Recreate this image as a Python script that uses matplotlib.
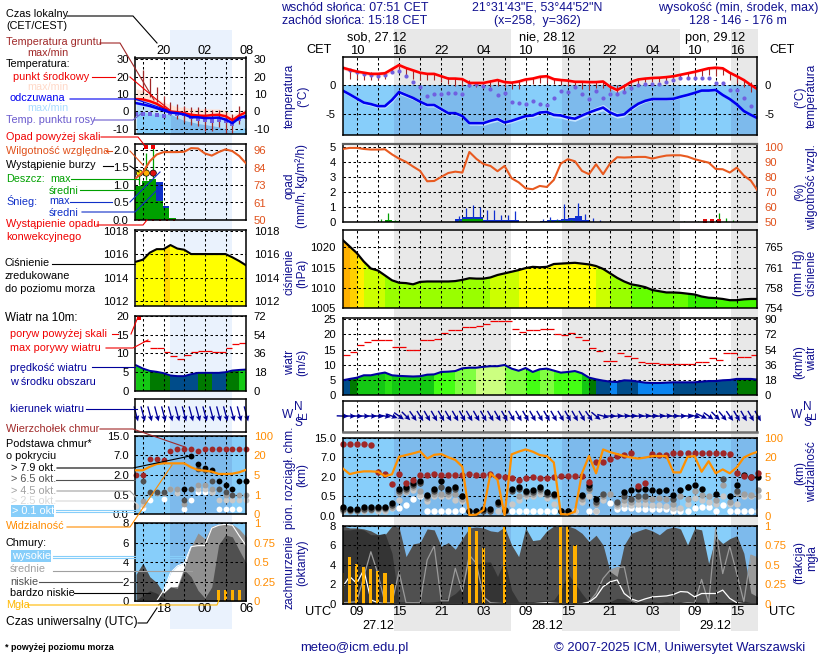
import numpy as np
import matplotlib
matplotlib.use('Agg')
import matplotlib.pyplot as plt
from matplotlib.patches import Rectangle
from matplotlib.transforms import blended_transform_factory as btf

plt.rcParams['font.family'] = ['Liberation Sans', 'DejaVu Sans']
nan = float('nan')
TF = 8.1

# ---------- main panels: hourly values, 27.12 07 UTC onward ----------
temp = [2.95,2.6,2.3,2.1,1.9,1.9,2.0,2.7,3.4,2.9,2.5,2.1,1.9,1.9,1.5,1.1,1.1,1.0,.35,.35,.35,.6,.85,.5,.4,.6,.95,1.1,1.4,1.5,
        1.0,.85,.75,.55,.55,.5,.5,.6,-.3,-.85,-.2,.55,.95,1.1,1.2,1.25,1.35,1.5,1.75,2.0,2.25,2.55,2.85,2.95,2.85,2.1,1.5,.85,0,-.75]
feel = [-.95,-1.6,-2.3,-3.0,-3.25,-3.6,-3.6,-2.55,-1.2,-1.7,-2.2,-2.85,-3.4,-3.4,-4.1,-4.8,-4.8,-5.3,-6.5,-6.5,-6.5,-6.1,-5.8,-6.4,-6.1,-5.7,-5.3,-5.2,-4.7,-4.6,
        -5.1,-5.2,-5.55,-5.75,-5.2,-4.7,-4.25,-3.85,-4.7,-5.2,-5.0,-4.0,-3.2,-2.7,-2.4,-2.4,-2.4,-2.35,-2.0,-1.7,-1.35,-.95,-.95,-.85,-1.7,-2.4,-3.3,-4.45,-5.1,-5.7]
dew = [nan,2.5,2.2,1.9,1.65,1.5,1.75,2.3,2.45,1.5,.55,-.4,-1.8,-1.6,-1.5,-1.4,-1.3,-1.5,0,.2,-.25,-.65,-1.7,-1.3,-2.9,-3.0,-3.3,-2.7,-3.3,-3.4,
       -2.2,-1.0,-1.15,-.35,-1.6,-2.4,-1.0,-2.15,-1.5,-1.6,-1.15,-.45,.05,.2,.2,.15,.5,.8,1.15,1.15,1.15,1.25,1.25,.4,.35,-.85,-.85,-2.3,-3.5,-5.5]
temp_spread = [.35,.35,.3,.3,.35,.35,.4,.45,.4,.3,.3,.25,.25,.25,.2,.2,.2,.2,.3,.35,.35,.35,.35,.3,.3,.3,.3,.25,.3,.35,
               .3,.3,.25,.25,.2,.2,.2,.2,.3,.4,.35,.3,.25,.2,.2,.2,.15,.15,.15,.2,.2,.2,.25,.3,.3,.25,.2,.2,.2,.2]
feel_spread = [.3,.3,.3,.3,.3,.35,.35,.4,.4,.35,.3,.3,.35,.35,.35,.3,.3,.3,.35,.35,.4,.4,.4,.35,.35,.35,.35,.35,.4,.4,
               .45,.45,.45,.45,.45,.45,.5,.55,.5,.45,.4,.35,.3,.25,.25,.2,.2,.2,.2,.2,.15,.15,.15,.15,.2,.2,.2,.2,.2,.2]
ground_max = [nan,2.6,2.45,2.3,2.2,2.1,2.3,2.9,3.3,2.9,2.5,2.3,2.1,2.1,1.6,1.3,1.2,1.1,.8,.6,.5,.8,1.0,.8,.6,.7,1.0,1.2,1.5,1.6,
              1.2,1.1,.9,.7,.7,.6,.6,.7,.1,-.0,.1,.7,1.0,1.2,1.3,1.3,1.4,1.6,1.8,2.1,2.3,2.6,2.9,3.0,2.9,2.2,1.7,1.0,.6,-.0]
ground_min = [nan,1.0,1.0,.8,.9,.9,1.0,2.2,2.6,1.6,1.1,.8,.9,.8,.5,.1,-.1,-.1,-.3,-.4,-.5,-.3,-.1,-.4,-.7,-.6,.1,.1,.4,.3,
              .1,.0,-.1,-.4,-.7,-.8,-.5,-.5,-1.0,-1.3,-1.0,-.3,.1,.5,.5,.6,.7,.8,1.1,1.2,1.4,1.5,1.7,1.6,1.7,.9,.3,-.3,-1.2,-1.3]
rh = [98.4,99.1,99.1,98.4,98,98,98.2,94.8,92,89.8,86.7,83.8,76.9,77.1,79.8,82.4,83.3,82.7,96.4,91.8,88.4,87.1,83.6,87.1,78.9,76.2,72.2,71.6,73.8,73.1,
      77.8,88.7,91.6,90.2,83.8,81.6,88.2,81.6,88.8,92.9,92.7,92.9,93.1,93.1,92,93.1,94,94.2,94.2,93.3,91.6,90.4,89.3,85.1,84.9,82.7,86,80.7,77.3,70.4]
snow_max_i = [16,17,18,19,20,21,22,23,24,28,29,30,31,32,33,34,35,36]
snow_max_v = [.38,.9,1.1,.96,.76,.76,.45,.45,.71,.2,.3,.2,1.18,.25,1.22,.5,.25,.1]
snow_mean_i = [16,17,18,19,20,21,22,23,24,28,29,30,31,32,33,34]
snow_mean_v = [.15,.3,.32,.3,.1,.12,.12,.1,.1,.05,.1,.1,.2,.25,.35,.1]
rain_max_i = [4,5,6,7,16,17,18,19,29,30,31,32,48,50,51,52,53,54,55]
rain_max_v = [.05,.2,.55,.1,.1,.2,.25,.2,.1,.1,.1,.1,.05,.05,.15,.15,.55,.25,.1]
rain_mean_i = [6,7,17,18,19,30,31,32]
rain_mean_v = [.08,.05,.15,.2,.15,.03,.05,.05]
over_scale_i = [51,52,53]
pres = [1021.8,1020.2,1018.6,1016.5,1014.8,1014.3,1013.1,1011.9,1011.3,1011.2,1010.9,1011.5,1011.6,1011.6,1011.6,1011.6,1011.7,1012.0,1012.4,1012.3,1012.3,1012.6,1013.2,1013.6,1014,1014.4,1014.9,1015.2,1015.1,1015.2,
        1015.9,1016,1016.1,1016.2,1016,1015.8,1015.4,1014.7,1013.6,1012.5,1011.6,1010.9,1010.6,1010.2,1009.5,1009.2,1008.9,1008.9,1008.8,1008.6,1008.4,1007.9,1007.6,1007.5,1007.3,1007,1007,1007.2,1007.3,1007.3]
pres_col = ['#FFB000','#FFD000','#FFF000','#CCFF00','#CCFF00','#CCFF00']+['#99FF00']*15+['#CCFF00']*4+['#FFFF00']*11+['#CCFF00']*2+['#99FF00']*3+['#66FF00']*8+['#33EE00']*4+['#44F800']*7
wind = [4.85,5.3,5.7,6.5,6.5,7,7.4,6.5,6.3,6.2,6.1,6.2,6.7,6.8,7.6,7.7,7.9,8.8,9,9,9.3,9.5,9.5,9.9,8.7,8.0,8.9,7.6,8.48,8.7,
        8.04,7.38,7.6,7.9,7.16,5.73,5.18,4.74,4.4,4.3,4.85,4.74,4.4,4.07,3.96,3.96,4.07,4.18,4.18,4.18,4.18,4.4,4.6,4.6,4.85,4.96,5.3,5.3,5.3,5.07]
gust = [13.1,14.1,16.4,17.6,18,18.2,18.2,15.8,15.8,14.8,14.8,18.2,18.2,18.5,20.4,21.4,21.4,22.4,22.4,22.8,23.3,24.5,24.5,24.3,21.9,20.9,21.6,21.6,21.9,21.9,
        20,19.7,20.4,19,18,15.4,14.4,11.2,11.2,13.8,12.8,12.1,10.8,10.5,10.5,10.1,10.1,10.1,10.1,10.1,10.8,11,12.1,11.7,13.8,13.8,12.4,12.7,13.1,13.1]
n_, b_, d_, g1, g2, g3, g4, g5 = '#004C8A','#0A84F0','#007A00','#14C814','#28E014','#44FF14','#80FF40','#CCFF80'
wind_col = [n_,d_,g1,g1,g1,g1,g2,g1,g1,g1,g1,g1,g1,g3,g3,g3,g4,g4,g4,g5,g5,g5,g5,g4,g4,g4,g3,g3,g4,g4,
            g3,g3,g3,g3,g1,d_,n_,n_,b_,n_,n_,n_,b_,b_,b_,b_,b_,n_,n_,n_,n_,n_,n_,n_,n_,n_,d_,d_,d_,d_]
wind_dir = [272,272,272,272,272,274,280,290,305,315,325,328,330,330,330,330,330,330,330,330,330,330,330,330,330,330,330,330,330,330,
            330,330,330,330,330,325,310,285,270,265,265,265,265,265,265,265,265,268,270,275,285,295,305,315,320,325,330,330,330,330]
top_km = [12.4,12.4,12.5,12.5,11.9,3.3,2.8,1.45,2.8,1.5,1.76,2.6,2.6,2.8,2.4,2.6,2.4,2.6,2.8,2.6,2.4,2.8,2.1,2.03,1.88,1.76,1.88,2.03,1.88,1.88,
          2.0,2.3,2.3,2.3,2.3,1.63,5.7,5.87,6.47,7.5,7.9,8.6,1.32,1.5,8.35,7.8,7.9,8.87,8.87,8.6,8.87,8.87,8.87,8.87,8.87,8.35,2.9,2.3,2.0,3.05]
okt79 = [.24,.18,.18,.22,.22,.24,.24,.32,1.04,1.25,1.5,1.68,.6,1.1,1.68,1.1,1.25,.57,.14,.14,.17,.17,.37,.15,1.1,1.25,.95,.97,1.25,.81,
         .7,.14,.14,nan,.6,1.37,.43,nan,nan,nan,.82,1.0,1.05,1.05,.97,.92,1.0,.6,1.0,1.19,1.37,1.1,nan,.71,nan,.56,1.37,2.45,2.0,2.0]
okt65 = [.19,.15,.15,.18,.18,.2,.2,.27,.92,1.1,1.35,1.5,.52,.95,1.2,.95,1.05,.5,.12,.12,.14,.14,.3,.13,.95,1.1,.85,.85,1.1,.7,
         .6,.12,.12,nan,.5,1.15,.36,.7,nan,.35,.5,.43,.55,.5,nan,nan,nan,.43,nan,1.25,nan,nan,nan,nan,1.8,nan,.93,nan,nan,nan]
okt45 = [.16,.13,.13,.15,.15,.17,.17,.23,.8,.95,1.2,.9,.45,.7,.7,.7,.7,.43,nan,nan,nan,.12,nan,.12,nan,.55,.7,.7,.9,.6,
         .5,nan,nan,nan,.43,1.0,.3,.55,.65,.3,.4,.36,.43,.43,.43,.45,.43,.3,.5,.43,.9,.6,.5,.4,1.4,.35,.75,.7,.6,1.0]
okt25 = [.14,nan,nan,.13,nan,.14,.14,.2,.4,.85,1.0,.6,.38,.5,.55,.5,.4,.38,.12,nan,nan,.12,.13,.12,.3,.4,.55,.55,.7,.45,
         .3,nan,nan,.12,.36,.5,.12,.4,nan,.25,.3,.28,.3,.3,.28,.28,.25,.2,.2,.3,.45,.4,.35,.3,.55,.3,.3,.55,.55,.55]
okt01 = [nan,nan,nan,nan,nan,nan,nan,nan,.2,.28,.43,.5,.14,.14,.14,.14,.14,.15,nan,nan,nan,nan,nan,nan,.14,.14,.14,.14,.14,.14,
         .14,nan,nan,.14,nan,.14,.14,nan,.32,.18,.2,.2,.18,.18,.18,.18,.18,.14,.14,.14,.2,.22,.22,.14,.28,.14,.14,.14,.14,.14]
vis = [11.5,7.1,8.4,9.2,9.2,8.9,5.6,6.9,22,29,36,44,19,30,33,20,18,12.8,.05,.07,.31,7.7,4.4,.05,32,43,52,43,29,25,
       16,.1,.08,.22,7.7,25,7.7,52,41,33,25,19.8,19,19.8,25,25,25,8.4,8.4,22,25,8.9,17,7.7,10.7,7.7,12.3,19.8,33,43]
cl_low = [8,7.8,7.8,7.7,7.5,7.1,7.1,8,7.9,4.85,6.15,6.3,7.7,7.6,5.9,6.3,5.6,6.7,7.8,7.9,7.8,7.5,7.4,7.9,6.05,4.85,7.8,6.5,6.6,7.5,
          8,7.9,8,7.75,7.25,6.4,7.05,6.05,3.3,2.8,6.05,7.25,7.5,7.75,7.5,7.1,7.7,7.9,7.7,6.05,7.75,7.6,4.15,6.9,6.2,6.7,7,5.2,1.1,.7]
cl_vlow = [7.6,7.6,7.7,7.6,7.1,7.1,7.25,5.2,.2,.2,.25,.2,.15,.2,.3,.6,1.05,1.75,4.15,4.0,4.3,4.3,2.8,4.5,1.4,.2,.2,.2,.3,.3,
           .4,1.4,3.1,2.1,1.05,.15,.1,.1,.2,.55,.5,.15,.3,.15,.2,.1,.2,.1,.2,.1,.2,.15,.1,.2,.1,.15,.3,.3,.1,.1]
cl_med = [.1,.15,.2,2.8,5.35,3.1,.1,.1,3.3,.1,.1,.1,4.5,5.95,.3,.3,3.65,1.25,5,4.15,.7,.1,.05,0,0,0,0,0,0,0,
          0,0,0,0,0,.2,1.05,2.6,3.45,3.7,3.8,.4,0,0,0,0,0,0,0,.1,.05,2.5,.05,7.75,3.1,5.9,3.1,.2,5,4.7]
cl_high = [1.75,2.8,2.1,3.5,.4,.1,0,0,0,0,0,0,0,0,0,0,0,0,0,0,0,0,0,0,0,0,0,0,.05,.1,
           .05,0,0,0,0,.15,.7,1.75,2.25,2.45,1.05,.5,.25,.5,.7,.75,.8,.95,1.25,1.2,.7,1.05,1.05,1.05,1.4,.55,.1,0,0,0]
fog_i = [0,1,2,3,4,5,6,7,18,19,20,23,31,32,33]
fog_v = [.39,.6,.51,.47,.45,.42,.39,.25,1,.93,.72,1,1,1,.76]
night_main = [(14.3, 30.9), (38.2, 54.9), (62.2, 66.0)]
cet_hours = [9,15,21,27,33,39,45,51,57,63]
cet_labels = ['10','16','22','04','10','16','22','04','10','16']
utc_labels = ['09','15','21','03','09','15','21','03','09','15']

# ---------- left panels: hourly values, 14 UTC to 06 UTC ----------
l_hours = list(range(14, 31))
l_temp = [7.1,6.9,5.9,4.4,2.1,0,-.4,-1,-1.9,-2.3,-2.5,-2.1,-1.9,-2.7,-5,-2.3,-.4]
l_feel = [4.8,4,3.1,1.9,.6,-.6,-1,-1.7,-3.3,-3.3,-3.8,-3.7,-3.5,-4.6,-6.7,-3.7,-2.7]
l_feel_min = [.5,0,-1.3,-1.3,-1.3,-1.5,-3.5,-5.2,-6,-7,-7.5,-8.2,-8.8,-10,-11,-10,-9]
l_temp_top = [13,12,9.5,7.5,5.3,4,2.5,2.5,1.5,1.5,1.5,1.5,1.5,.6,-2,0,1.6]
l_dew = [-1.3,-1.3,-1.7,-2.3,-2.7,-1,-1.3,-1.7,-3.3,-4.2,-4.6,-5.2,-4.8,-5.2,-7.1,-4.2,-3.3]
l_gmax = [nan,24,19,14,9,5.7,4.4,3.4,2.5,2.5,1.9,.6,.6,-.4,-1.3,2.9,nan]
l_gmin = [nan,11,8,5.4,1.5,-2.3,-4.2,-6,-7.5,-8.4,-11,-11,-9,-12.9,-12.3,-7,nan]
l_rh = [77.5,81.3,88.5,92.9,94.5,94.5,94.5,94.7,97.1,96.9,93.6,92.2,94.5,96.3,95.1,91.9,87]
l_rain = [.96,1.12,1.18,.53,.34,.07]
l_snow = [0,0,0,1.08,.41,0]
l_rain_max = [1.35,1.9,2.1]
l_storm_col = ['#FFF000','#FFB000','#E01010']
l_pres = [1015.38,1015.55,1016.15,1016.45,1016.45,1016.8,1016.5,1016.4,1016.03,1016.03,1016.03,1016.03,1016.03,1016.03,1015.75,1015.43,1015.06]
l_pres_col = ['#FFFF00']*4+['#FFD800']+['#FFFF00']*12
l_wind = [6.84,5.96,5.35,5.1,4.74,4.12,3.95,3.95,4.47,4.82,4.82,4.82,4.82,5,5.44,5.6,5.7]
l_gust = [nan,13.4,11.5,11.3,10.4,9.3,8.6,9.6,10.3,10.6,10.6,10.3,10.3,11.5,12.6,12.8,12.8]
l_gust_over = [19.5]
l_wind_col = [g1,g1,d_,d_,d_,n_,n_,n_,n_,d_,d_,n_,n_,d_,d_,g1,g1]
l_dir = [345]*17
l_top = [2,2,6.15,6.15,5.8,8.6,9.4,9.4,9.4,8.6,9.4,9.4,9.4,9.4,9.4,9.4,9.4]
l_79 = [nan,nan,nan,nan,nan,nan,nan,.93,6.85,4.8,3.85,3.27,1.54,1.24,.91,1.54,1.54]
l_65 = [nan,1.54,.68,.68,.68,nan,nan,.36,.91,3.45,3.27,1.54,.91,.68,.49,nan,1.54]
l_45 = [nan,.35,.6,.6,.6,.91,.91,.26,nan,1.24,1.24,.91,.91,.49,.49,.49,.49]
l_25 = [.21,.24,nan,nan,nan,.91,.6,nan,nan,.91,.91,.73,.36,.36,.36,.36,.36]
l_01 = [nan,.15,.36,nan,.38,nan,nan,.13,.36,.68,.68,.68,.13,.13,.13,.13,nan]
l_vis = [8.6,8.6,11.3,13.4,13.9,13.9,13.9,13.9,10.9,8.8,8.3,7.6,5.8,5.8,6,7.1,9]
l_vlow = [.1,.55,1.07,.8,.3,0,0,0,0,0,0,0,0,0,0,0,0]
l_low = [2.75,3.9,2.5,1.9,.8,1.45,1.3,3.2,2.5,1.1,.3,1.45,5.8,6.8,6.6,5.2,3.9]
l_med = [0,0,0,0,.8,1.45,1.5,3.5,5.6,7,6.4,7.7,7.9,7.9,7.9,7.4,6.6]
l_high = [0,0,0,0,1.1,2.9,3.6,3.9,5.6,5.7,5.7,7.5,7.8,7.9,7.8,6.7,5.7]
l_fog_h = [26,27,28,29]
l_fog_v = [.14,.14,.14,.14]
day_left = (18.9, 27.9)

t = np.arange(7, 67, dtype=float)
lt = np.array(l_hours, dtype=float)
XM = (7.0, 65.9)
XL = (13.85, 29.9)
SKY, SKYN = '#87CEFA', '#7DBAEC'
GRID = dict(color='black', lw=0.75, ls=(0, (2.4, 2.4)))

fig = plt.figure(figsize=(8.2, 6.6), dpi=100, facecolor='white')
bg = fig.add_axes([0, 0, 1, 1], zorder=-1); bg.set_xlim(0, 820); bg.set_ylim(660, 0); bg.axis('off')
top = fig.add_axes([0, 0, 1, 1], zorder=20); top.set_xlim(0, 820); top.set_ylim(660, 0); top.axis('off')


def panel(box, xlim, ylim, ticks, labels=None, rlabels=None, rcol='black', vgrid=(), fs=TF, lpad=4.5, rpad=6):
    l, t_, r, b = box
    ax = fig.add_axes([l/820, 1-b/660, (r-l)/820, (b-t_)/660], zorder=5)
    ax.patch.set_alpha(0)
    ax.set_xlim(*xlim); ax.set_ylim(*ylim)
    ax.set_axisbelow(False)
    ax.set_xticks(list(vgrid)); ax.set_xticklabels([])
    ax.set_yticks(ticks)
    ax.set_yticklabels(labels if labels is not None else [str(v) for v in ticks], fontsize=fs)
    ax.tick_params(length=0, pad=lpad)
    ax.grid(True, **GRID)
    for s in ax.spines.values():
        s.set_linewidth(1.1); s.set_zorder(12)
    ax2 = None
    if rlabels is not None:
        ax2 = ax.twinx(); ax2.set_zorder(6); ax2.patch.set_alpha(0)
        ax2.set_ylim(*ylim)
        ax2.set_yticks(ticks); ax2.set_yticklabels(rlabels, fontsize=fs, color=rcol)
        ax2.tick_params(length=0, pad=rpad)
        for s in ax2.spines.values():
            s.set_visible(False)
    return ax, ax2


def sky(ax, bands, y0, y1):
    ax.axhspan(y0, y1, color=SKY, lw=0, zorder=0.1)
    for a, c in bands:
        ax.fill_between([a, c], [y0, y0], [y1, y1], color=SKYN, lw=0, zorder=0.2)


def coloured(ax, x, y, colours, base):
    poly = ax.fill_between(x, base, y, color='none', lw=0)
    bars = ax.bar(x, [max(y)*2]*len(x), bottom=base, width=1.0, align='edge', color=colours, lw=0, zorder=0.5)
    for p in bars:
        p.set_clip_path(poly.get_paths()[0], ax.transData)


VG_M = [9+3*k for k in range(19)]
VG_L = [15, 18, 21, 24, 27]
BM = [(a, b) for a, b in night_main]
BL = [day_left]

def km_f(v): return np.interp(v, [0, .5, 2, 7, 15], [0, 1, 2, 3, 4])
def km_i(v): return np.interp(v, [0, 1, 2, 3, 4], [0, .5, 2, 7, 15])
def vis_f(v): return np.interp(v, [0, 1, 5, 20, 100], [0, 1, 2, 3, 4])
def vis_i(v): return np.interp(v, [0, 1, 2, 3, 4], [0, 1, 5, 20, 100])

# ====== main panels ======
M1, _ = panel((342.7, 57.3, 757.2, 135), XM, (-8.53, 4.73), [0, -5], ['0', '-5'], ['0', '-5'], vgrid=VG_M, lpad=5, rpad=5)
sky(M1, BM, -8.53, 0)
M1.fill_between(t, np.array(temp)-temp_spread, np.array(temp)+temp_spread, color='#FFD0D0', lw=0, zorder=.6, alpha=.9)
M1.fill_between(t, np.array(feel)-feel_spread, np.array(feel)+feel_spread, color='#C4E4FF', lw=0, zorder=.6)
M1.vlines(t, ground_min, ground_max, color='#A02828', lw=.8, zorder=3)
M1.plot(t, dew, ls='', marker='o', ms=3, color='#7060E0', mew=0, zorder=3.2)
M1.plot(t, temp, color='#FF0000', lw=1.9, zorder=4)
M1.plot(t, feel, color='#0000F0', lw=1.9, zorder=4)
for h, lab in zip(cet_hours, cet_labels):
    M1.text(h, 1.0, lab, transform=btf(M1.transData, M1.transAxes), ha='center', va='bottom', fontsize=9.4)

M2, M2r = panel((342.7, 144, 757.2, 221.7), XM, (0, 5.17), [5, 4, 3, 2, 1, 0], ['5', '4', '3', '2', '1', '0'], ['100', '90', '80', '70', '60', '50'], '#E0501A', VG_M, lpad=5, rpad=5)
M2.spines['top'].set_color('#606060'); M2.spines['top'].set_linewidth(1.6)
M2r.set_ylim(50, 101.7); M2r.set_yticks([100, 90, 80, 70, 60, 50]); M2r.set_yticklabels(['100', '90', '80', '70', '60', '50'], fontsize=TF, color='#E0501A')
M2.vlines(t[snow_max_i]+.5, 0, snow_max_v, color='#1030D0', lw=.9, zorder=3)
M2.bar(t[snow_mean_i], snow_mean_v, width=1, align='edge', color='#1030D0', lw=0, zorder=3)
M2.vlines(t[rain_max_i]+.5, 0, rain_max_v, color='#00A000', lw=.9, zorder=3.1)
M2.bar(t[rain_mean_i], rain_mean_v, width=1, align='edge', color='#00A000', lw=0, zorder=3.1)
M2.plot(t[over_scale_i]+.5, [.02]*3, ls='', marker='s', ms=2.5, color='#E01010', mew=0, zorder=4, clip_on=False)
M2r.plot(t, rh, color='#E85A20', lw=1.5, zorder=4)

M3, _ = panel((342.7, 230.3, 757.2, 308.3), XM, (1005, 1024.2), [1020, 1015, 1010, 1005], None, ['765', '761', '758', '754'], vgrid=VG_M, lpad=5, rpad=5)
coloured(M3, t, pres, pres_col, 1005)
M3.plot(t, pres, color='black', lw=1.6, zorder=4)

M4, _ = panel((342.7, 317.7, 757.2, 395), XM, (0, 25.5), [25, 20, 15, 10, 5, 0], None, ['90', '72', '54', '36', '18', '0'], vgrid=VG_M, lpad=5, rpad=5)
coloured(M4, t, wind, wind_col, 0)
M4.plot(t, wind, color='#0000A0', lw=1.5, zorder=4)
M4.hlines(gust, t, t+1, color='#F00000', lw=.9, zorder=4)

M5, _ = panel((342.7, 401, 757.2, 431.7), XM, (0, 1), [], [], vgrid=VG_M)
M5.spines['bottom'].set_color('#707070'); M5.spines['bottom'].set_linewidth(1.8)
ang = np.radians(-90-np.array(wind_dir, dtype=float))
M5.quiver(t, [.51]*60, 12*np.cos(ang), 12*np.sin(ang), angles='uv', scale_units='dots', scale=1, units='dots', width=1.4,
          headwidth=4, headlength=4.2, headaxislength=3.6, pivot='mid', color='#00009A', clip_on=False, zorder=4)

M6, M6r = panel((342.7, 437.7, 757.2, 516), XM, (0, 15), [15, 7, 2, .5, 0], ['15.0', '7.0', '2.0', '0.5', '0.0'], None, vgrid=VG_M, lpad=5)
M6.set_yscale('function', functions=(km_f, km_i)); M6.set_ylim(0, 15)
M6.set_yticks([15, 7, 2, .5, 0]); M6.set_yticklabels(['15.0', '7.0', '2.0', '0.5', '0.0'], fontsize=TF)
sky(M6, BM, 0, 15)
for arr, c in [(okt01, 'white'), (okt25, '#C8C8C8'), (okt45, '#A0A0A0'), (okt65, '#505050'), (okt79, 'black'), (top_km, '#A02828')]:
    M6.plot(t, arr, ls='', marker='o', ms=4.6, mew=0, color=c, zorder=3, clip_on=False)
M6r = M6.twinx(); M6r.set_zorder(6); M6r.patch.set_alpha(0)
M6r.set_yscale('function', functions=(vis_f, vis_i)); M6r.set_ylim(0, 100)
M6r.set_yticks([100, 20, 5, 1, 0]); M6r.set_yticklabels(['100', '20', '5', '1', '0'], fontsize=TF, color='#FF8C00')
M6r.tick_params(length=0, pad=5)
for s in M6r.spines.values(): s.set_visible(False)
M6r.plot(t, vis, color='#FF9000', lw=1.6, zorder=5)

M7, M7r = panel((342.7, 526, 757.2, 603.7), XM, (0, 8), [8, 6, 4, 2, 0], None, ['1', '0.75', '0.5', '0.25', '0'], '#FF8C00', VG_M, lpad=5, rpad=5)
sky(M7, BM, 0, 8)
M7.fill_between(t, 0, cl_high, color='white', lw=0, zorder=.6)
M7.fill_between(t, 0, cl_med, color='#9A9A9A', lw=0, zorder=.7)
M7.fill_between(t, 0, cl_low, color='#505050', lw=0, zorder=.8)
M7.fill_between(t, 0, cl_vlow, color='#343434', lw=0, zorder=.9)
M7.plot(t, cl_med, color='#9A9A9A', lw=.9, zorder=1.1)
M7.plot(t, cl_high, color='white', lw=.9, zorder=1.2)
M7.bar(t[fog_i], np.array(fog_v)*8, width=.45, color='#FFB000', lw=0, zorder=1.3)
for h, lab in zip(cet_hours, utc_labels):
    M7.text(h, -.03, lab, transform=btf(M7.transData, M7.transAxes), ha='center', va='top', fontsize=9.4)

# ====== left panels ======
P1, _ = panel((135, 57.5, 245.5, 134), XL, (-12.9, 30.9), [30, 20, 10, 0, -10], None, ['30', '20', '10', '0', '-10'], vgrid=VG_L)
P1.fill_between(lt, l_temp, l_temp_top, color='#FFE4D8', lw=0, zorder=.6)
P1.fill_between(lt, l_feel_min, l_temp, color='#BEE0F8', lw=0, zorder=.5)
P1.fill_between(lt, -12.9, l_feel_min, color=SKY, lw=0, zorder=.55)
P1.fill_between(lt, -12.9, l_feel_min, where=(lt >= 19) & (lt <= 28), color=SKYN, lw=0, zorder=.58)
P1.vlines(lt, l_gmin, l_gmax, color='#A02828', lw=.9, zorder=3)
P1.plot(lt, l_dew, ls='', marker='s', ms=2.6, color='#7060E0', mew=0, zorder=3.2)
P1.plot(lt, l_temp, color='#FF0000', lw=1.8, zorder=4)
P1.plot(lt, l_feel, color='#0000F0', lw=1.8, zorder=4)
for h, lab in zip([18, 24, 30], ['20', '02', '08']):
    P1.text(h, 1.01, lab, transform=btf(P1.transData, P1.transAxes), ha='center', va='bottom', fontsize=9.2, clip_on=False)

P2, P2r = panel((135, 143.7, 245.5, 220), XL, (0, 2.18), [2, 1.5, 1, .5, 0], ['2.0', '1.5', '1.0', '0.5', '0.0'], ['96', '84', '73', '61', '50'], '#E0501A', VG_L)
P2r.set_ylim(50, 100); P2r.set_yticks([96, 84, 73, 61, 50]); P2r.set_yticklabels(['96', '84', '73', '61', '50'], fontsize=TF, color='#E0501A')
P2.bar(lt[:6]-.15, l_snow, width=1, align='edge', color='#1030C8', lw=0, zorder=1)
P2.bar(lt[:6]-.15, l_rain, width=1, align='edge', color='#00A000', lw=0, zorder=1.1)
P2.vlines(lt[:3]+.5, [1.0, 1.15, 1.2], l_rain_max, color='#00A000', lw=.9, zorder=3)
P2.scatter(lt[:3]+.5, [1.34]*3, s=20, c=l_storm_col, edgecolors='black', linewidths=.5, zorder=5, clip_on=False)
P2.plot(lt[1:3]+.5, [2.09, 2.09], ls='', marker='s', ms=2.6, mew=0, color='#F00000', zorder=5)
P2.plot(lt[:6]+.5, [.01]*6, ls='', marker='s', ms=1.6, mew=0, color='#E01010', zorder=5)
P2r.plot(lt, l_rh, color='#E85A20', lw=1.5, zorder=4)

P3, _ = panel((135, 229.7, 245.5, 306.3), XL, (1011.57, 1018.11), [1018, 1016, 1014, 1012], None, ['1018', '1016', '1014', '1012'], vgrid=VG_L)
coloured(P3, lt, l_pres, l_pres_col, 1011.57)
P3.plot(lt, l_pres, color='black', lw=1.5, zorder=4)

P4, _ = panel((135, 315.7, 245.5, 391), XL, (0, 20), [20, 15, 10, 5, 0], None, ['72', '54', '36', '18', '0'], vgrid=VG_L)
coloured(P4, lt, l_wind, l_wind_col, 0)
P4.plot(lt, l_wind, color='#0000A0', lw=1.4, zorder=4)
P4.hlines(l_gust, lt, lt+1, color='#F00000', lw=.9, zorder=4)
P4.plot([lt[0]+.4], l_gust_over, ls='', marker='s', ms=2.5, mew=0, color='#F00000', zorder=5)

P5, _ = panel((135, 398.7, 245.5, 431.7), XL, (0, 1), [], [], vgrid=VG_L)
a_l = np.radians(-90-np.array(l_dir, dtype=float))
P5.quiver(lt, [.54]*17, 15.5*np.cos(a_l), 15.5*np.sin(a_l), angles='uv', scale_units='dots', scale=1, units='dots', width=1.3,
          headwidth=4.2, headlength=4.4, headaxislength=3.8, pivot='mid', color='#00009A', clip_on=False, zorder=4)

P6, _ = panel((135, 435.7, 245.5, 514.3), XL, (0, 15), [15, 7, 2, .5, 0], ['15.0', '7.0', '2.0', '0.5', '0.0'], None, vgrid=VG_L)
P6.set_yscale('function', functions=(km_f, km_i)); P6.set_ylim(0, 15)
P6.set_yticks([15, 7, 2, .5, 0]); P6.set_yticklabels(['15.0', '7.0', '2.0', '0.5', '0.0'], fontsize=TF)
sky(P6, BL, 0, 15)
for arr, c in [(l_01, 'white'), (l_25, '#C8C8C8'), (l_45, '#A0A0A0'), (l_65, '#505050'), (l_79, 'black'), (l_top, '#A02828')]:
    P6.plot(lt, arr, ls='', marker='o', ms=4.2, mew=0, color=c, zorder=3, clip_on=False)
P6r = P6.twinx(); P6r.set_zorder(6); P6r.patch.set_alpha(0)
P6r.set_yscale('function', functions=(vis_f, vis_i)); P6r.set_ylim(0, 100)
P6r.set_yticks([100, 20, 5, 1, 0]); P6r.set_yticklabels(['100', '20', '5', '1', '0'], fontsize=TF, color='#FF8C00')
P6r.tick_params(length=0, pad=6)
for s in P6r.spines.values(): s.set_visible(False)
P6r.plot(lt, l_vis, color='#FF9000', lw=1.6, zorder=5)

P7, P7r = panel((135, 523.3, 245.5, 601), XL, (0, 8), [8, 6, 4, 2, 0], None, ['1', '0.75', '0.5', '0.25', '0'], '#FF8C00', VG_L)
sky(P7, BL, 0, 8)
P7.fill_between(lt, 0, l_high, color='white', lw=0, zorder=.6)
P7.fill_between(lt, 0, l_med, color='#909090', lw=0, zorder=.7)
P7.fill_between(lt, 0, l_low, color='#505050', lw=0, zorder=.8)
P7.fill_between(lt, 0, l_vlow, color='#343434', lw=0, zorder=.9)
P7.plot(lt, l_high, color='white', lw=.8, zorder=1.1)
P7.bar(l_fog_h, np.array(l_fog_v)*8, width=.42, color='#FFB000', lw=0, zorder=1.3)
for h, lab in zip([18, 24, 30], ['18', '00', '06']):
    P7.text(h, -.03, lab, transform=btf(P7.transData, P7.transAxes), ha='center', va='top', fontsize=9.2, clip_on=False)

# ====== day / night bands ======
for a, c in BM:
    bg.add_patch(Rectangle((a, 29), c-a, 601.5, transform=btf(M1.transData, bg.transData), color='#E8E8E8', lw=0))
a, c = day_left
bg.add_patch(Rectangle((a, 30), c-a, 599, transform=btf(P1.transData, bg.transData), color='#EAF2FD', lw=0))

# ====== text ======
NAVY = '#101090'
def T(x, y, s, c='black', fs=7.8, ha='left', rot=0, **k):
    top.text(x, y, s, color=c, fontsize=fs, ha=ha, va='center', **k)

for x, y, s in [(355, 8, 'wschód słońca: 07:51 CET'), (355, 21.5, 'zachód słońca: 15:18 CET'), (537, 8, '21°31\'43"E, 53°44\'52"N'),
                (537, 21, '(x=258,  y=362)'), (738, 8, 'wysokość (min, środek, max)'), (738, 21, '128 - 146 - 176 m')]:
    T(x, y, s, NAVY, 8.9, 'center')
for x, y, s in [(377, 38, 'sob, 27.12'), (547, 38, 'nie, 28.12'), (715, 38, 'pon, 29.12'), (319, 50, 'CET'), (782, 50, 'CET'),
                (318, 612, 'UTC'), (782, 612, 'UTC'), (378, 626, '27.12'), (547, 626, '28.12'), (715, 626, '29.12')]:
    T(x, y, s, 'black', 9.2, 'center')
T(354, 648, 'meteo@icm.edu.pl', NAVY, 9.4, 'center')
T(680, 648, '© 2007-2025 ICM, Uniwersytet Warszawski', NAVY, 9.4, 'center')
T(5, 648, '* powyżej poziomu morza', 'black', 6.4, fontweight='bold')

rot_labels = [(290, 96, 'temperatura'), (303, 96, '(°C)'), (290, 186, 'opad'), (302, 186, '(mm/h, kg/m²/h)'), (290, 272, 'ciśnienie'), (302, 273, '(hPa)'),
              (290, 362, 'wiatr'), (302, 362, '(m/s)'), (290, 478, 'pion. rozciągł. chm.'), (302, 475, '(km)'), (290, 572, 'zachmurzenie'), (302, 563, '(oktanty)'),
              (800, 97, '(°C)'), (812, 96, 'temperatura'), (800, 192, '(%)'), (812, 187, 'wilgotność wzgl.'), (799, 273, '(mm Hg)'), (812, 273, 'ciśnienie'),
              (799, 362, '(km/h)'), (812, 358, 'wiatr'), (800, 473, '(km)'), (812, 472, 'widzialność'), (799, 562, '(frakcja)'), (812, 558, 'mgła')]
for x, y, s in rot_labels:
    top.text(x, y, s, color=NAVY, fontsize=8.6, rotation=90, ha='center', va='center')
for x0 in (288, 797):
    for dx, dy, s, r in [(0, 415, 'W', 0), (10, 407, 'N', 0), (10, 423, 'S', 0), (16, 415, 'E', 90)]:
        top.text(x0+dx, dy, s, color=NAVY, fontsize=8.6, rotation=r, ha='center', va='center')

BR = '#A02828'; RED = '#F00000'; ORR = '#E0501A'; GRN = '#00A000'; BLU = '#1030C8'; DN = '#00009A'; ORG = '#FF8C00'
labels = [(6, 14, 'Czas lokalny', 'black'), (6, 26, '(CET/CEST)', 'black'), (6, 42, 'Temperatura gruntu', BR), (27, 52.5, 'max/min', BR),
          (6, 64, 'Temperatura:', 'black'), (13, 76.5, 'punkt środkowy', RED), (27, 86.5, 'max/min', '#FFD9C8'), (10, 98, 'odczuwana', '#0000F0'),
          (27, 108, 'max/min', '#A8DCFF'), (6, 120, 'Temp. punktu rosy', '#6A5ACD'), (6, 137, 'Opad powyżej skali', RED), (6, 151, 'Wilgotność względna', ORR),
          (6, 165, 'Wystąpienie burzy', 'black'), (6, 179, 'Deszcz:', GRN), (50, 179, 'max', GRN), (49, 190.5, 'średni', GRN), (6, 201, 'Śnieg:', BLU), (49, 201.5, 'max', BLU),
          (49, 212.5, 'średni', BLU), (6, 224, 'Wystąpienie opadu', RED), (6, 237, 'konwekcyjnego', RED), (5, 263, 'Ciśnienie', 'black'), (5, 276, 'zredukowane', 'black'),
          (5, 289, 'do poziomu morza', 'black'), (10, 334, 'poryw powyżej skali', RED), (10, 348, 'max porywy wiatru', RED),
          (10, 368, 'prędkość wiatru', DN), (10, 382, 'w środku obszaru', DN), (10, 409, 'kierunek wiatru', DN), (6, 429, 'Wierzchołek chmur', BR),
          (6, 444, 'Podstawa chmur*', 'black'), (6, 456, 'o pokryciu', 'black'), (11, 468, '> 7.9 okt.', 'black'), (11, 479.5, '> 6.5 okt.', '#505050'), (11, 490.5, '> 4.5 okt.', '#A0A0A0'),
          (11, 500.5, '> 2.5 okt.', '#D8D8D8'), (6, 526, 'Widzialność', ORG), (6, 543, 'Chmury:', 'black'), (10, 569, 'średnie', '#A0A0A0'), (10, 582, 'niskie', '#505050'),
          (10, 593.5, 'bardzo niskie', 'black'), (6, 605, 'Mgła', '#FFB800')]
for x, y, s, c in labels:
    T(x, y, s, c)
T(5, 318, 'Wiatr na 10m:', 'black', 8.4)
T(6, 622, 'Czas uniwersalny (UTC)', 'black', 8.7)
for x, y, s, w in [(11, 511, '> 0.1 okt.', 43), (11, 556, 'wysokie', 40)]:
    top.add_patch(Rectangle((x, y-6), w, 12, color='#87CEFA', lw=0))
    T(x+1, y, s, 'white')

conn = [([67, 133, 157], [16, 16, 43], 'black'), ([100, 120, 154], [43, 43, 100], BR), ([92, 115], [77, 77], RED), ([130, 157, 170], [77, 100, 110], RED),
        ([70, 135, 167], [99, 99, 110], '#0000F0'), ([94, 133, 142], [120, 120, 113], '#6A5ACD'), ([101, 138, 146], [137, 137, 147], RED),
        ([106, 112], [151, 151], ORR), ([130, 143], [151, 165], ORR), ([103, 113], [166, 166], 'black'), ([130, 139], [166, 172], 'black'),
        ([71, 139], [179, 179], GRN), ([80, 147], [190, 190], GRN), ([70, 112], [202, 202], BLU), ([130, 160], [202, 172], BLU), ([82, 135, 160], [212, 212, 187], BLU),
        ([97, 143, 147], [225, 225, 220], RED), ([52, 135], [264, 264], 'black'), ([112, 118], [334, 334], RED), ([131, 138], [334, 317], RED),
        ([106, 133, 148], [348, 348, 340], RED), ([92, 135], [367, 367], DN), ([86, 137], [409, 409], DN), ([100, 133, 185], [429, 429, 447], BR),
        ([57, 133, 190], [468, 468, 456], 'black'), ([56, 135], [480, 480], '#505050'), ([57, 130, 136], [491, 491, 497], '#A0A0A0'), ([56, 133, 137], [501, 501, 504], '#D8D8D8'),
        ([56, 135], [510, 510], '#87CEFA'), ([56, 135], [512, 512], '#87CEFA'), ([67, 130, 172], [527, 527, 465], ORG), ([53, 185], [555.5, 555.5], '#87CEFA'), ([53, 185], [558, 558], '#87CEFA'),
        ([53, 192], [571, 571], '#A0A0A0'), ([39, 122], [582, 582], '#505050'), ([130, 135], [582, 582], '#505050'), ([74, 150], [593, 593], 'black'),
        ([28, 217, 219], [605, 605, 600], '#FFB800'), ([138, 147, 157], [623, 623, 608], 'black')]
for xs, ys, c in conn:
    top.plot(xs, ys, color=c, lw=.8, solid_joinstyle='miter')

fig.savefig('out.png', dpi=100, facecolor='white')
